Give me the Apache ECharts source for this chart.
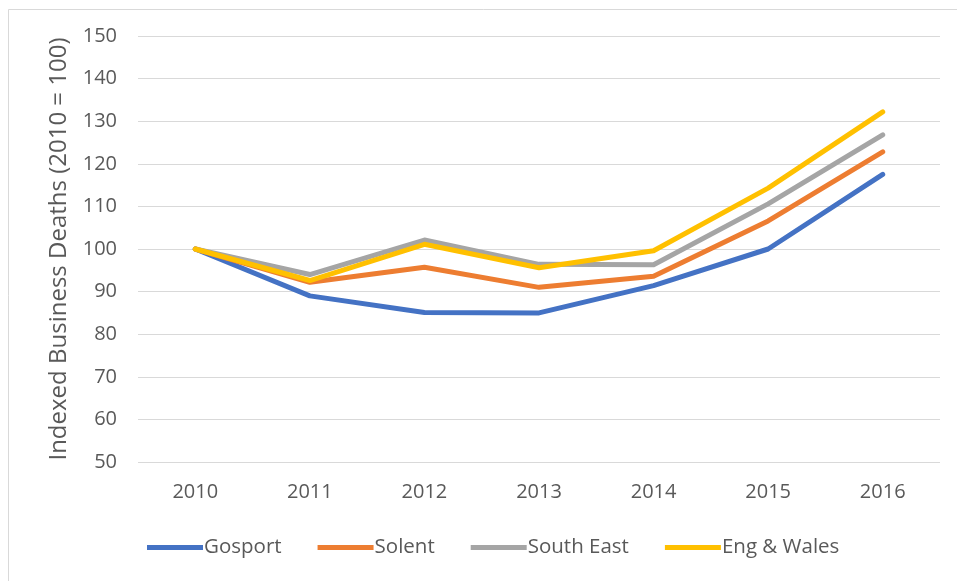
<!DOCTYPE html>
<html>
<head>
<meta charset="utf-8">
<script src="https://cdn.jsdelivr.net/npm/echarts@6/dist/echarts.min.js"></script>
<style>
html,body{margin:0;padding:0;background:#fff;}
#chart{width:957px;height:581px;}
</style>
</head>
<body>
<div id="chart"></div>
<script>
const years = ['2010','2011','2012','2013','2014','2015','2016'];
const gosport   = [100, 89.0, 85.1, 85.0, 91.4, 100.0, 117.5];
const solent    = [100, 92.2, 95.7, 91.0, 93.6, 106.6, 122.8];
const southEast = [100, 94.0, 102.1, 96.4, 96.3, 110.6, 126.8];
const engWales  = [100, 92.6, 101.1, 95.6, 99.6, 114.3, 132.2];
const seriesNames = ['Gosport','Solent','South East','Eng & Wales'];
const colors = ['#4472C4','#ED7D31','#A5A5A5','#FFC000'];
const yTitle = 'Indexed Business Deaths (2010 = 100)';

const chart = echarts.init(document.getElementById('chart'), null, {renderer:'canvas'});
const font = '"Open Sans", Lato, sans-serif';
const dataSets = [gosport, solent, southEast, engWales];
chart.setOption({
  animation: false,
  backgroundColor: '#fff',
  color: colors,
  textStyle: {fontFamily: font},
  graphic: [{
    type: 'rect', left: 6, top: 7,
    shape: {width: 960, height: 580},
    style: {fill: 'none', stroke: '#d9d9d9', lineWidth: 1},
    silent: true, z: -10
  }],
  grid: {left: 138, right: 17, top: 36, bottom: 119},
  legend: {
    left: 142, top: 532,
    icon: 'rect', itemWidth: 56, itemHeight: 5, itemGap: 36,
    textStyle: {fontFamily: font, fontSize: 20.5, color: '#595959', padding: [0,0,0,-4]},
    data: seriesNames
  },
  xAxis: {
    type: 'category', data: years, boundaryGap: true,
    axisLine: {show: false}, axisTick: {show: false},
    axisLabel: {color: '#595959', fontSize: 20, fontFamily: font, margin: 20}
  },
  yAxis: {
    type: 'value', min: 50, max: 150, interval: 10,
    name: yTitle, nameLocation: 'middle', nameGap: 67, nameRotate: 90,
    nameTextStyle: {color: '#595959', fontSize: 24, fontFamily: font},
    axisLine: {show: false}, axisTick: {show: false},
    axisLabel: {color: '#595959', fontSize: 20, fontFamily: font, margin: 21},
    splitLine: {lineStyle: {color: '#d9d9d9', width: 1}}
  },
  series: seriesNames.map((n, i) => ({
    name: n, type: 'line', data: dataSets[i],
    showSymbol: false, symbol: 'none',
    lineStyle: {width: 5, color: colors[i], cap: 'round', join: 'round'},
    itemStyle: {color: colors[i]}
  }))
});
</script>
</body>
</html>
